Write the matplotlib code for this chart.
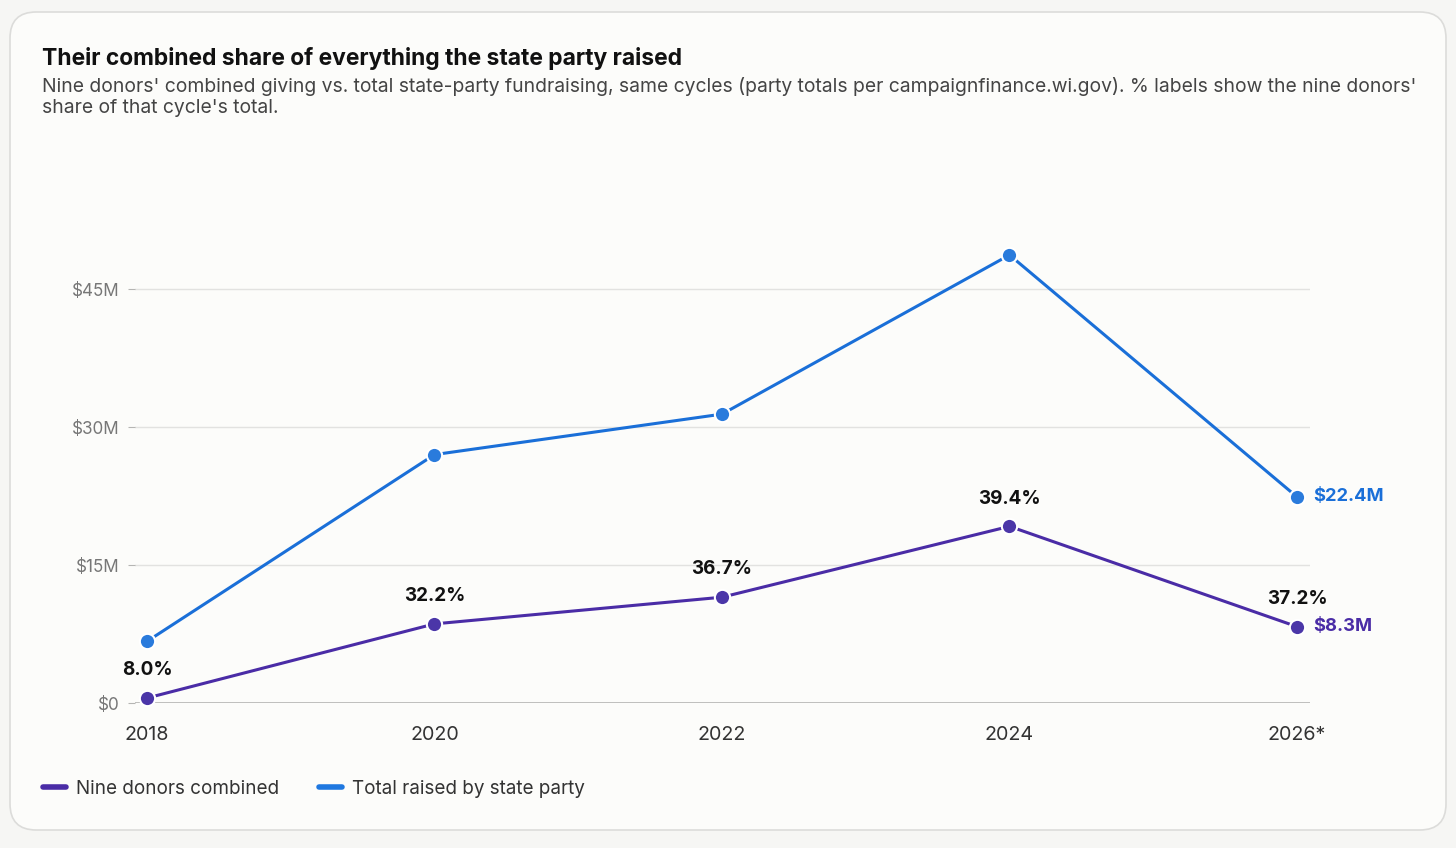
import matplotlib.pyplot as plt
from matplotlib.patches import FancyBboxPatch
from matplotlib.lines import Line2D
import numpy as np

plt.rcParams['font.family'] = ['Inter', 'DejaVu Sans']

# data
cycles = ['2018', '2020', '2022', '2024', '2026*']
party_total = [6.7, 27.0, 31.4, 48.7, 22.4]     # $M
nine_donors = [0.54, 8.6, 11.5, 19.2, 8.3]       # $M
share_labels = ['8.0%', '32.2%', '36.7%', '39.4%', '37.2%']
y_ticks = [0, 15, 30, 45]
y_tick_labels = ['$0', '$15M', '$30M', '$45M']

blue = '#1a6fd8'
blue_dot = '#2a7bdc'
purple = '#4a2ca6'
purple_dot = '#4b36a8'

fig = plt.figure(figsize=(14.56, 8.48), dpi=100)
fig.patch.set_facecolor('#f6f6f4')

# card
card = FancyBboxPatch((10 / 1456, 1 - 830 / 848), 1436 / 1456, 818 / 848,
                      boxstyle='round,pad=0,rounding_size=0.018',
                      transform=fig.transFigure, facecolor='#fcfcfa',
                      edgecolor='#dcdcda', linewidth=1.2, mutation_aspect=1456 / 848,
                      zorder=-10)
fig.patches.append(card)

fig.text(42 / 1456, 1 - 58 / 848, 'Their combined share of everything the state party raised',
         fontsize=16.45, fontweight='bold', color='#111111', va='center')
fig.text(42 / 1456, 1 - 86 / 848,
         "Nine donors' combined giving vs. total state-party fundraising, same cycles (party totals per campaignfinance.wi.gov). % labels show the nine donors'",
         fontsize=13.9, color='#444444', va='center')
fig.text(42 / 1456, 1 - 108 / 848, "share of that cycle's total.",
         fontsize=13.9, color='#444444', va='center')

ax = fig.add_axes([135 / 1456, 1 - 703 / 848, 1175 / 1456, 503 / 848])
ax.set_facecolor('none')
x = np.arange(len(cycles))

for t in y_ticks[1:]:
    ax.axhline(t, color='#e2e2e0', linewidth=1, zorder=0)
ax.axhline(0, color='#b5b5b3', linewidth=1.2, zorder=0)

ax.plot(x, party_total, color=blue, linewidth=2.2, marker='o', markersize=11,
        markerfacecolor=blue_dot, markeredgecolor='white', markeredgewidth=1.5, zorder=3,
        clip_on=False)
ax.plot(x, nine_donors, color=purple, linewidth=2.2, marker='o', markersize=11,
        markerfacecolor=purple_dot, markeredgecolor='white', markeredgewidth=1.5, zorder=3,
        clip_on=False)

for xi, yi, lab in zip(x, nine_donors, share_labels):
    ax.annotate(lab, (xi, yi), xytext=(0, 20), textcoords='offset points',
                ha='center', va='center', fontsize=13.6, fontweight='bold', color='#111111')

ax.annotate('$22.4M', (x[-1], party_total[-1]), xytext=(11.5, 0), textcoords='offset points',
            ha='left', va='center', fontsize=13.2, fontweight='bold', color=blue)
ax.annotate('$8.3M', (x[-1], nine_donors[-1]), xytext=(11.5, 0), textcoords='offset points',
            ha='left', va='center', fontsize=13.2, fontweight='bold', color=purple)

ax.set_xlim(-12 / 287.5, 4 + 13 / 287.5)
ax.set_ylim(0, 503 / 9.2)
ax.set_xticks(x)
ax.set_xticklabels(cycles, fontsize=14.2, color='#333333')
ax.set_yticks(y_ticks)
ax.set_yticklabels(y_tick_labels, fontsize=12.3, color='#777777')
ax.tick_params(axis='x', length=0, pad=16.5)
ax.tick_params(axis='y', length=5, color='#b5b5b3', pad=6)
for s in ax.spines.values():
    s.set_visible(False)

handles = [Line2D([0], [0], color=purple, linewidth=4, solid_capstyle='round'),
           Line2D([0], [0], color='#1f78e0', linewidth=4, solid_capstyle='round')]
fig.legend(handles, ['Nine donors combined', 'Total raised by state party'],
           loc='center left', bbox_to_anchor=(26 / 1456, 1 - 789 / 848), ncol=2,
           frameon=False, fontsize=13.6, handlelength=1.2, handletextpad=0.55,
           columnspacing=2.1, labelcolor='#333333')

fig.savefig('out.png', dpi=100, facecolor=fig.get_facecolor())
